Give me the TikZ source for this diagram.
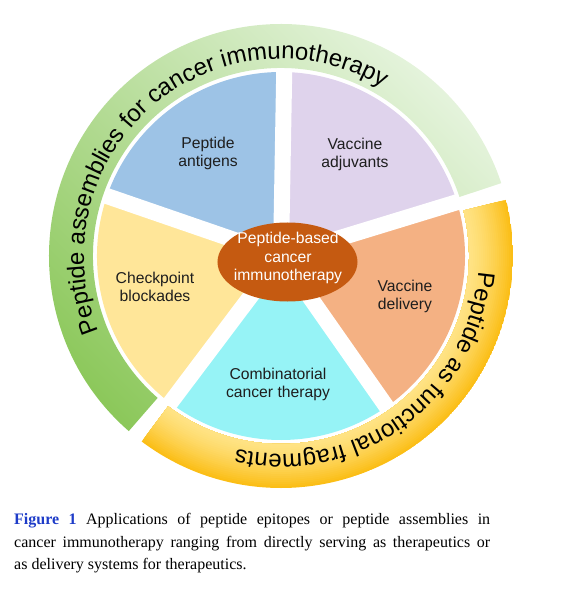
\documentclass[tikz,border=0pt]{standalone}
\usepackage{fontspec}
\setmainfont{Liberation Sans}
\newfontfamily\capfont{Liberation Serif}
\usetikzlibrary{decorations.text,shapes.geometric}

\definecolor{secblue}{RGB}{157,195,230}
\definecolor{secpurple}{RGB}{223,211,236}
\definecolor{secorange}{RGB}{244,177,131}
\definecolor{seccyan}{RGB}{150,243,246}
\definecolor{secyellow}{RGB}{255,230,153}
\definecolor{centerbrown}{RGB}{197,90,17}
\definecolor{greenpale}{RGB}{230,244,222}
\definecolor{greenstrong}{RGB}{138,199,88}
\definecolor{yla}{RGB}{255,228,135}
\definecolor{ylc}{RGB}{251,190,22}
\definecolor{figblue}{RGB}{30,60,200}
\definecolor{labeltext}{RGB}{30,30,30}

\newcommand\ringfont{\fontsize{24pt}{28pt}\selectfont}

\tikzset{
  lbl/.style={align=center, text=labeltext, inner sep=0pt,
    font=\fontsize{15.7pt}{18pt}\selectfont},
  hublbl/.style={align=center, text=white, inner sep=0pt,
    font=\fontsize{15.7pt}{18.5pt}\selectfont},
  capline/.style={anchor=base west, inner sep=0pt, text=black,
    font=\capfont\fontsize{16pt}{22pt}\selectfont},
  spoke/.style={white, line width=16pt},
}

\begin{document}
\begin{tikzpicture}[x=1pt,y=1pt]
\useasboundingbox (-281,-341) rectangle (299,256);
\coordinate (c) at (0,0);

% sectors
\fill[secblue]   (c) -- (89:184pt)  arc[start angle=89,  end angle=161, radius=184pt] -- cycle;
\fill[secpurple] (c) -- (17:184pt)  arc[start angle=17,  end angle=89,  radius=184pt] -- cycle;
\fill[secorange] (c) -- (-55:184pt) arc[start angle=-55, end angle=17,  radius=184pt] -- cycle;
\fill[seccyan]   (c) -- (233:184pt) arc[start angle=233, end angle=305, radius=184pt] -- cycle;
\fill[secyellow] (c) -- (161:184pt) arc[start angle=161, end angle=233, radius=184pt] -- cycle;

% white spokes
\foreach \a in {17,89,161,233,305}
  \draw[spoke] (c) -- (\a:186pt);

% green ring
\begin{scope}
  \clip (18.3:188pt) arc[start angle=18.3, end angle=229, radius=188pt]
        -- (229:232pt) arc[start angle=229, end angle=18.3, radius=232pt] -- cycle;
  \shade[top color=greenpale, bottom color=greenstrong, shading angle=-45]
        (-240,-240) rectangle (240,240);
\end{scope}

% yellow ring (radial gradient by bands)
\begin{scope}
  \clip (14:188pt) arc[start angle=14, end angle=-126.9, radius=188pt]
        -- (-126.9:232pt) arc[start angle=-126.9, end angle=14, radius=232pt] -- cycle;
  \foreach \r in {232,230,...,188} {
    \pgfmathsetmacro\p{min(100,((\r-187)/45)^1.4*100)}
    \fill[ylc!\p!yla] (c) circle (\r pt);
  }
\end{scope}

% ring texts
\path[decorate, decoration={text along path, text align={fit to path},
      text={|\ringfont|Peptide assemblies for cancer immunotherapy}}]
  (202.5:197pt) arc[start angle=202.5, end angle=59, radius=197pt];
\path[decorate, decoration={text along path, text align={fit to path},
      text={|\ringfont|Peptide as functional fragments}}]
  (-4.5:198pt) arc[start angle=-4.5, end angle=-103, radius=198pt];

% hub
\node[ellipse, fill=centerbrown, minimum width=140pt, minimum height=79pt, inner sep=0pt] (hub) at (6.5,-6) {};
\node[hublbl] (hubtext) at (7,-2) {Peptide-based\\cancer\\immunotherapy};

% sector labels
\node[lbl] (antigens)   at (-73,103)  {Peptide\\antigens};
\node[lbl] (adjuvants)  at (74,102)   {Vaccine\\adjuvants};
\node[lbl] (checkpoint) at (-126,-31) {Checkpoint\\blockades};
\node[lbl] (delivery)   at (124,-40)  {Vaccine\\delivery};
\node[lbl] (combo)      at (-3,-128)  {Combinatorial\\cancer therapy};

% caption
\node[capline] (cap1) at (-267,-268.5) {\makebox[476pt][s]{\textcolor{figblue}{\bfseries Figure 1} Applications of peptide epitopes or peptide assemblies in}};
\node[capline] (cap2) at (-267,-291) {\makebox[476pt][s]{cancer immunotherapy ranging from directly serving as therapeutics or}};
\node[capline] (cap3) at (-267,-313.5) {as delivery systems for therapeutics.};
\end{tikzpicture}
\end{document}
